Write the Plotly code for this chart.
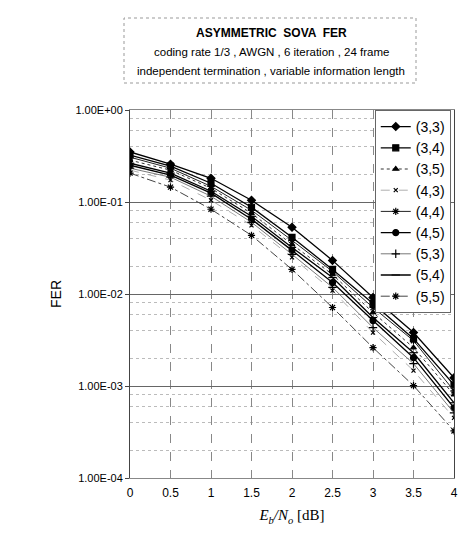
import plotly.graph_objects as go

ebno = [0, 0.5, 1, 1.5, 2, 2.5, 3, 3.5, 4]

fer_33 = [0.35, 0.258, 0.181, 0.1045, 0.0531, 0.0232, 0.00916, 0.00381, 0.00123]
fer_34 = [0.323, 0.245, 0.160, 0.0877, 0.0413, 0.0185, 0.00788, 0.00327, 0.00103]
fer_44 = [0.307, 0.233, 0.148, 0.0813, 0.0383, 0.0176, 0.00713, 0.00311, 0.000887]
fer_35 = [0.285, 0.222, 0.141, 0.0754, 0.0346, 0.0163, 0.00629, 0.00261, 0.000803]
fer_54 = [0.264, 0.206, 0.131, 0.0699, 0.0321, 0.0151, 0.00555, 0.00230, 0.000657]
fer_45 = [0.251, 0.196, 0.125, 0.0649, 0.0298, 0.0133, 0.00514, 0.00203, 0.000579]
fer_53 = [0.233, 0.186, 0.1156, 0.0602, 0.0270, 0.0118, 0.00431, 0.00175, 0.000511]
fer_43 = [0.222, 0.173, 0.1045, 0.0558, 0.0250, 0.0109, 0.00381, 0.00147, 0.000451]
fer_55 = [0.206, 0.145, 0.0834, 0.0434, 0.0185, 0.00713, 0.00261, 0.00101, 0.000325]

labels = ["(3,3)", "(3,4)", "(3,5)", "(4,3)", "(4,4)", "(4,5)", "(5,3)", "(5,4)", "(5,5)"]
series = [fer_33, fer_34, fer_35, fer_43, fer_44, fer_45, fer_53, fer_54, fer_55]

title_lines = [
    "<b>ASYMMETRIC  SOVA  FER</b>",
    "coding rate 1/3 , AWGN , 6 iteration , 24 frame",
    "independent termination , variable information length",
]

styles = [
    dict(dash="solid", width=1.3, color="black", symbol="diamond", msize=6),
    dict(dash="solid", width=1.3, color="black", symbol="square", msize=6),
    dict(dash="dot", width=1.0, color="#333", symbol="triangle-up", msize=5),
    dict(dash="dash", width=0.8, color="#999", symbol="x-thin-open", msize=4),
    dict(dash="solid", width=1.0, color="#222", symbol="asterisk-open", msize=6),
    dict(dash="solid", width=1.3, color="black", symbol="circle", msize=6),
    dict(dash="solid", width=0.8, color="#555", symbol="cross-thin-open", msize=6),
    dict(dash="solid", width=1.3, color="black", symbol="line-ew-open", msize=6),
    dict(dash="dashdot", width=1.0, color="#444", symbol="asterisk-open", msize=6),
]

fig = go.Figure()
for lab, ys, st in zip(labels, series, styles):
    fig.add_trace(go.Scatter(
        x=ebno, y=ys, name=lab, mode="lines+markers",
        line=dict(color=st["color"], width=st["width"], dash=st["dash"]),
        marker=dict(symbol=st["symbol"], size=st["msize"], color="black",
                    line=dict(color="black", width=1.2)),
    ))

# title block (three centred lines inside a dotted frame)
title_y = [25, 44, 63]
for txt, py in zip(title_lines, title_y):
    fig.add_annotation(
        text=txt, xref="paper", yref="paper",
        x=(263 - 122) / 324, y=1 + (102 - py) / 368,
        xanchor="center", yanchor="middle", showarrow=False,
        font=dict(size=12 if py == 25 else 11.5, family="Liberation Sans, Arial, sans-serif"),
    )
fig.add_shape(type="rect", xref="paper", yref="paper",
              x0=(116 - 122) / 324, x1=(408 - 122) / 324,
              y0=1 + (102 - 75) / 368, y1=1 + (102 - 10) / 368,
              line=dict(color="#999", width=1, dash="dot"))

fig.update_layout(
    width=473, height=535,
    margin=dict(l=122, r=27, t=102, b=65),
    paper_bgcolor="white", plot_bgcolor="white",
    font=dict(family="Liberation Sans, Arial, sans-serif", color="black", size=11),
    showlegend=True,
    legend=dict(
        x=0.99, xanchor="right", y=1.0, yanchor="top",
        bgcolor="white", bordercolor="#666", borderwidth=1,
        font=dict(size=14), tracegroupgap=0,
    ),
)

fig.update_xaxes(
    range=[0, 4], tickvals=[0, 0.5, 1, 1.5, 2, 2.5, 3, 3.5, 4],
    ticktext=["0", "0.5", "1", "1.5", "2", "2.5", "3", "3.5", "4"],
    showgrid=True, gridcolor="#888", griddash="dash", gridwidth=1,
    showline=True, linecolor="#888", mirror=True, linewidth=1,
    ticks="", ticklabelstandoff=4,
    tickfont=dict(size=12),
    title=dict(text="<i>E<sub>b</sub>/N<sub>o</sub></i> [dB]",
               font=dict(family="Liberation Serif, Times New Roman, serif", size=15),
               standoff=10),
    zeroline=False,
)

fig.update_yaxes(
    type="log", range=[-4, 0],
    tickvals=[1, 0.1, 0.01, 0.001, 0.0001],
    ticktext=["1.00E+00", "1.00E-01", "1.00E-02", "1.00E-03", "1.00E-04"],
    showgrid=True, gridcolor="#666", gridwidth=1,
    minor=dict(showgrid=True, gridcolor="#bbb", griddash="dot", gridwidth=1,
               tickvals=[v * m for v in [1e-4, 1e-3, 1e-2, 1e-1] for m in [2, 4, 6, 8]]),
    showline=True, linecolor="#444", mirror=True, linewidth=1,
    ticks="outside", ticklen=4, tickcolor="#444",
    tickfont=dict(size=11),
    title=dict(text="FER", font=dict(size=14), standoff=10),
    zeroline=False,
)

fig.write_html("out.html")
